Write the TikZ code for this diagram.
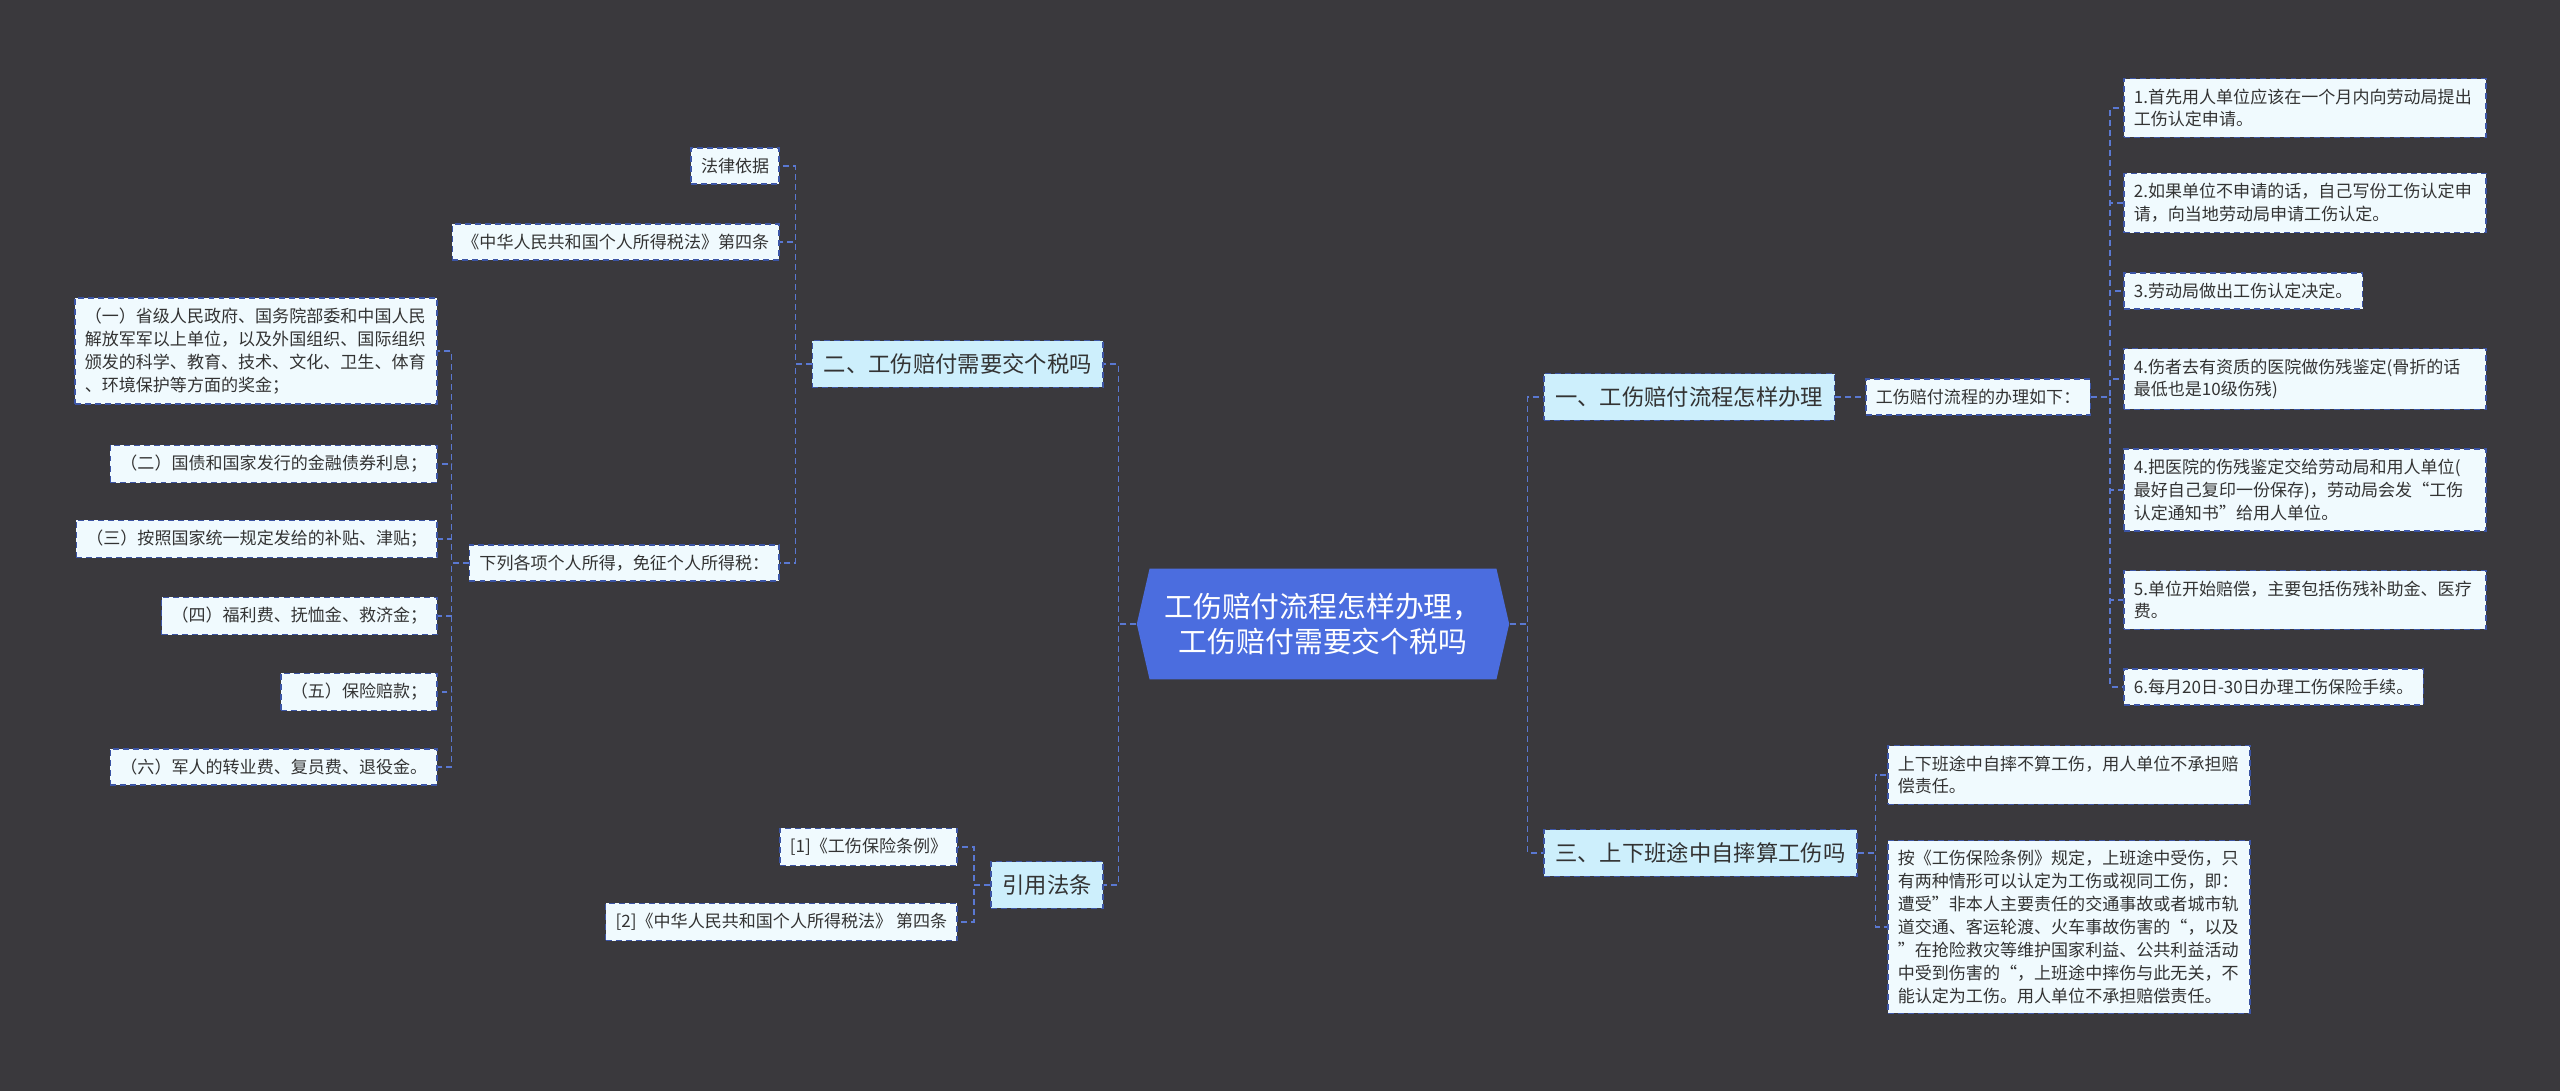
\documentclass[tikz,border=0pt]{standalone}
\usepackage{fontspec}
\usetikzlibrary{shapes.symbols}
\newfontfamily\cjk{Noto Sans CJK SC}
\definecolor{bgdark}{HTML}{3A393D}
\definecolor{rootblue}{HTML}{4B6DDF}
\definecolor{topicfill}{HTML}{CDEFFC}
\definecolor{leaffill}{HTML}{F0FAFE}
\definecolor{edgeblue}{HTML}{3C55A5}
\definecolor{linkblue}{HTML}{5A78D2}
\definecolor{inkgray}{HTML}{333333}
\tikzset{
  box/.style={draw=edgeblue, dash pattern=on 3.4pt off 2.3pt, line width=0.9pt,
    text=inkgray, inner xsep=0.2cm, inner ysep=0.2cm,
    font=\cjk\fontsize{9.7}{13}\selectfont},
  leaf/.style={box, fill=leaffill},
  wrapleaf/.style={leaf, text width=6.85cm, align=left},
  topic/.style={box, fill=topicfill, inner xsep=0.23cm, inner ysep=0.26cm,
    font=\cjk\fontsize{12.7}{16}\selectfont},
  root/.style={shape=signal, signal to=west and east, signal pointer angle=154,
    fill=rootblue, text=white, align=center, minimum width=7.45cm,
    minimum height=2.22cm, font=\cjk\fontsize{16.4}{20}\selectfont},
  link/.style={draw=linkblue, line width=0.9pt, dash pattern=on 3.4pt off 2.3pt},
}
\begin{document}
\begin{tikzpicture}[x=0.02cm,y=-0.02cm]
    \useasboundingbox (0,0) rectangle (2560,1091);
    \fill[bgdark] (0,0) rectangle (2560,1091);

    \node[root] (root) at (1323,624) {工伤赔付流程怎样办理，\\工伤赔付需要交个税吗};

    % left: tax
    \node[topic,anchor=east] (tax) at (1104,364) {二、工伤赔付需要交个税吗};
    \node[leaf,anchor=east] (law) at (780,166) {法律依据};
    \node[leaf,anchor=east] (lawref) at (780,242) {《中华人民共和国个人所得税法》第四条};
    \node[leaf,anchor=east] (exempt) at (780,563) {下列各项个人所得，免征个人所得税：};
    \node[wrapleaf,anchor=east] (ex1) at (438,351) {（一）省级人民政府、国务院部委和中国人民\\解放军军以上单位，以及外国组织、国际组织\\颁发的科学、教育、技术、文化、卫生、体育\\、环境保护等方面的奖金；};
    \node[leaf,anchor=east] (ex2) at (438,464) {（二）国债和国家发行的金融债券利息；};
    \node[leaf,anchor=east] (ex3) at (438,539) {（三）按照国家统一规定发给的补贴、津贴；};
    \node[leaf,anchor=east] (ex4) at (438,616) {（四）福利费、抚恤金、救济金；};
    \node[leaf,anchor=east] (ex5) at (438,692) {（五）保险赔款；};
    \node[leaf,anchor=east] (ex6) at (438,767) {（六）军人的转业费、复员费、退役金。};

    % left: citations
    \node[topic,anchor=east] (cite) at (1104,885) {引用法条};
    \node[leaf,anchor=east] (cite1) at (958,847) {[1]《工伤保险条例》};
    \node[leaf,anchor=east] (cite2) at (958,922) {[2]《中华人民共和国个人所得税法》 第四条};

    % right: procedure
    \node[topic,anchor=west] (flow) at (1543,397) {一、工伤赔付流程怎样办理};
    \node[leaf,anchor=west] (flowlist) at (1865,397) {工伤赔付流程的办理如下：};
    \node[wrapleaf,anchor=west] (st1) at (2123,108) {1.首先用人单位应该在一个月内向劳动局提出\\工伤认定申请。};
    \node[wrapleaf,anchor=west] (st2) at (2123,203) {2.如果单位不申请的话，自己写份工伤认定申\\请，向当地劳动局申请工伤认定。};
    \node[leaf,anchor=west] (st3) at (2123,291) {3.劳动局做出工伤认定决定。};
    \node[wrapleaf,anchor=west] (st4) at (2123,379) {4.伤者去有资质的医院做伤残鉴定(骨折的话\\最低也是10级伤残)};
    \node[wrapleaf,anchor=west] (st5) at (2123,490) {4.把医院的伤残鉴定交给劳动局和用人单位(\\最好自己复印一份保存)，劳动局会发“工伤\\认定通知书”给用人单位。};
    \node[wrapleaf,anchor=west] (st6) at (2123,600) {5.单位开始赔偿，主要包括伤残补助金、医疗\\费。};
    \node[leaf,anchor=west] (st7) at (2123,687) {6.每月20日-30日办理工伤保险手续。};

    % right: commuting
    \node[topic,anchor=west] (commute) at (1543,853) {三、上下班途中自摔算工伤吗};
    \node[wrapleaf,anchor=west] (cm1) at (1887,775) {上下班途中自摔不算工伤，用人单位不承担赔\\偿责任。};
    \node[wrapleaf,anchor=west] (cm2) at (1887,927) {按《工伤保险条例》规定，上班途中受伤，只\\有两种情形可以认定为工伤或视同工伤，即：\\遭受”非本人主要责任的交通事故或者城市轨\\道交通、客运轮渡、火车事故伤害的“，以及\\”在抢险救灾等维护国家利益、公共利益活动\\中受到伤害的“，上班途中摔伤与此无关，不\\能认定为工伤。用人单位不承担赔偿责任。};

    % connectors
    \draw[link] (root.west) -- ++(-18,0) |- (tax.east);
    \draw[link] (root.west) -- ++(-18,0) |- (cite.east);
    \draw[link] (root.east) -- ++(18,0) |- (flow.west);
    \draw[link] (root.east) -- ++(18,0) |- (commute.west);

    \draw[link] (tax.west) -- ++(-16,0) |- (law.east);
    \draw[link] (tax.west) -- ++(-16,0) |- (lawref.east);
    \draw[link] (tax.west) -- ++(-16,0) |- (exempt.east);

    \draw[link] (exempt.west) -- ++(-17,0) |- (ex1.east);
    \draw[link] (exempt.west) -- ++(-17,0) |- (ex2.east);
    \draw[link] (exempt.west) -- ++(-17,0) |- (ex3.east);
    \draw[link] (exempt.west) -- ++(-17,0) |- (ex4.east);
    \draw[link] (exempt.west) -- ++(-17,0) |- (ex5.east);
    \draw[link] (exempt.west) -- ++(-17,0) |- (ex6.east);

    \draw[link] (cite.west) -- ++(-16,0) |- (cite1.east);
    \draw[link] (cite.west) -- ++(-16,0) |- (cite2.east);

    \draw[link] (flow.east) -- (flowlist.west);
    \draw[link] (flowlist.east) -- ++(19,0) |- (st1.west);
    \draw[link] (flowlist.east) -- ++(19,0) |- (st2.west);
    \draw[link] (flowlist.east) -- ++(19,0) |- (st3.west);
    \draw[link] (flowlist.east) -- ++(19,0) |- (st4.west);
    \draw[link] (flowlist.east) -- ++(19,0) |- (st5.west);
    \draw[link] (flowlist.east) -- ++(19,0) |- (st6.west);
    \draw[link] (flowlist.east) -- ++(19,0) |- (st7.west);

    \draw[link] (commute.east) -- ++(18,0) |- (cm1.west);
    \draw[link] (commute.east) -- ++(18,0) |- (cm2.west);
\end{tikzpicture}
\end{document}
